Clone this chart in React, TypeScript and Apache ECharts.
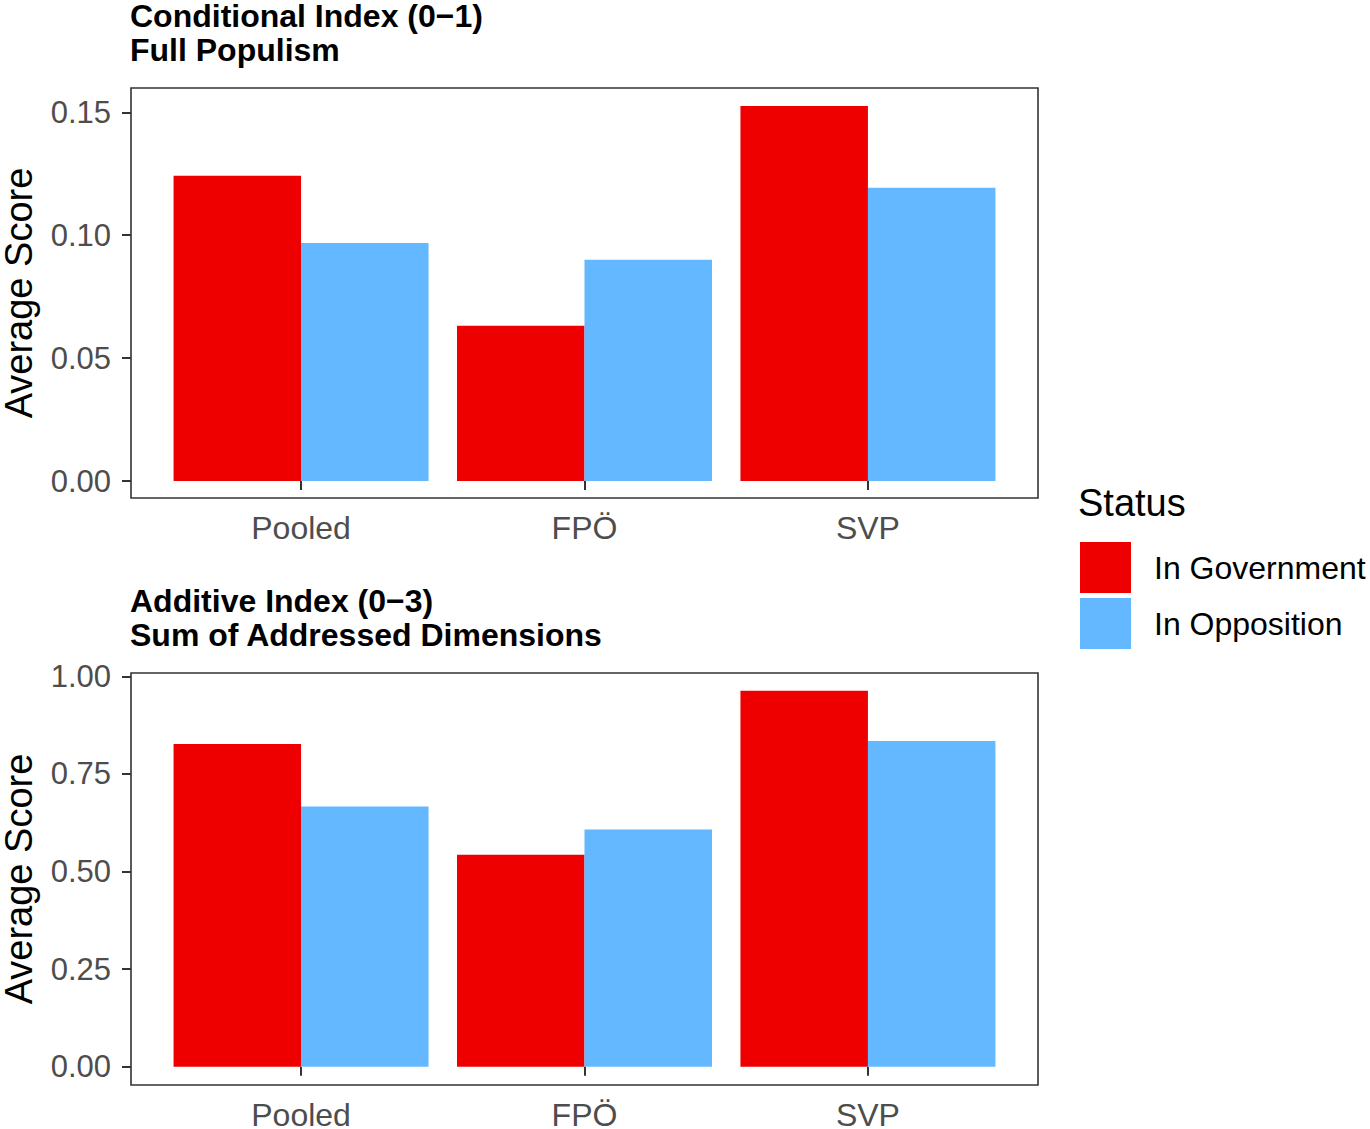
import React, { useEffect, useRef } from "react";
import * as echarts from "echarts";

const categories = ["Pooled", "FPÖ", "SVP"];
const categoryPositions = [1, 2, 3];
const seriesNames = ["In Government", "In Opposition"];
const conditionalGov = [0.1242, 0.0632, 0.1526];
const conditionalOpp = [0.0968, 0.09, 0.1193];
const additiveGov = [0.8267, 0.5428, 0.9633];
const additiveOpp = [0.6667, 0.6077, 0.8343];
const topTicks = [0, 0.05, 0.1, 0.15];
const bottomTicks = [0, 0.25, 0.5, 0.75, 1.0];
const topTitle = "Conditional Index (0\u22121)\nFull Populism";
const bottomTitle = "Additive Index (0\u22123)\nSum of Addressed Dimensions";

const RED = "#EE0000";
const BLUE = "#63B8FF";
const FONT = "Liberation Sans, Arial, sans-serif";

export default function App() {
  const ref = useRef<HTMLDivElement>(null);
  useEffect(() => {
    if (!ref.current) return;
    const chart = echarts.init(ref.current, null, { renderer: "svg" });
    const toPairs = (vals: number[]) => vals.map((v, i) => [categoryPositions[i], v]);
    const xAxisBase = (gridIndex: number) => ({
      type: "value",
      gridIndex,
      min: 0.4,
      max: 3.6,
      splitLine: { show: false },
      axisLine: { show: false },
      axisTick: {
        show: true,
        customValues: categoryPositions,
        length: 9,
        lineStyle: { color: "#333333", width: 2 },
      },
      axisLabel: {
        customValues: categoryPositions,
        formatter: (v: number) => categories[categoryPositions.indexOf(v)] ?? "",
        fontSize: 32,
        color: "#4D4D4D",
        fontFamily: FONT,
        margin: 14,
      },
    });
    const yAxisBase = (gridIndex: number, min: number, max: number, ticks: number[]) => ({
      type: "value",
      gridIndex,
      min,
      max,
      name: "Average Score",
      nameLocation: "middle",
      nameRotate: 90,
      nameGap: 93,
      nameTextStyle: { fontSize: 38, color: "#000000", fontFamily: FONT },
      splitLine: { show: false },
      axisLine: { show: false },
      axisTick: {
        show: true,
        customValues: ticks,
        length: 9,
        lineStyle: { color: "#333333", width: 2 },
      },
      axisLabel: {
        customValues: ticks,
        formatter: (v: number) => v.toFixed(2),
        fontSize: 31,
        color: "#4D4D4D",
        fontFamily: FONT,
        margin: 20,
      },
    });
    const barBase = {
      type: "bar",
      barWidth: 127.5,
      barGap: "0%",
    };
    const gridBase = {
      left: 131,
      width: 907,
      show: true,
      borderColor: "#333333",
      borderWidth: 1.6,
      backgroundColor: "transparent",
      containLabel: false,
      outerBoundsMode: "none",
    };
    chart.setOption({
      animation: false,
      backgroundColor: "#FFFFFF",
      title: [
        {
          text: topTitle,
          left: 130,
          top: -1,
          padding: 0,
          textStyle: { fontSize: 32, fontWeight: "bold", color: "#000", fontFamily: FONT, lineHeight: 34 },
        },
        {
          text: bottomTitle,
          left: 130,
          top: 584,
          padding: 0,
          textStyle: { fontSize: 32, fontWeight: "bold", color: "#000", fontFamily: FONT, lineHeight: 34 },
        },
      ],
      legend: {
        data: seriesNames,
        orient: "vertical",
        left: 1080,
        top: 542,
        padding: 0,
        icon: "rect",
        itemWidth: 51,
        itemHeight: 51,
        itemGap: 5,
        textStyle: { fontSize: 32, color: "#000", fontFamily: FONT, padding: [0, 0, 0, 18] },
      },
      graphic: [
        {
          type: "text",
          left: 1078,
          top: 484,
          style: { text: "Status", fontSize: 38, fill: "#000", fontFamily: FONT },
        },
      ],
      grid: [
        { ...gridBase, top: 88, height: 410 },
        { ...gridBase, top: 673, height: 412 },
      ],
      xAxis: [xAxisBase(0), xAxisBase(1)],
      yAxis: [yAxisBase(0, -0.0069, 0.1599, topTicks), yAxisBase(1, -0.047, 1.0087, bottomTicks)],
      series: [
        { ...barBase, name: seriesNames[0], xAxisIndex: 0, yAxisIndex: 0, data: toPairs(conditionalGov), itemStyle: { color: RED } },
        { ...barBase, name: seriesNames[1], xAxisIndex: 0, yAxisIndex: 0, data: toPairs(conditionalOpp), itemStyle: { color: BLUE } },
        { ...barBase, name: seriesNames[0], xAxisIndex: 1, yAxisIndex: 1, data: toPairs(additiveGov), itemStyle: { color: RED } },
        { ...barBase, name: seriesNames[1], xAxisIndex: 1, yAxisIndex: 1, data: toPairs(additiveOpp), itemStyle: { color: BLUE } },
      ],
    });
    return () => chart.dispose();
  }, []);
  return (
    <div
      ref={ref}
      style={{ position: "absolute", left: 0, top: 0, width: 1370, height: 1129, background: "#fff" }}
    />
  );
}
